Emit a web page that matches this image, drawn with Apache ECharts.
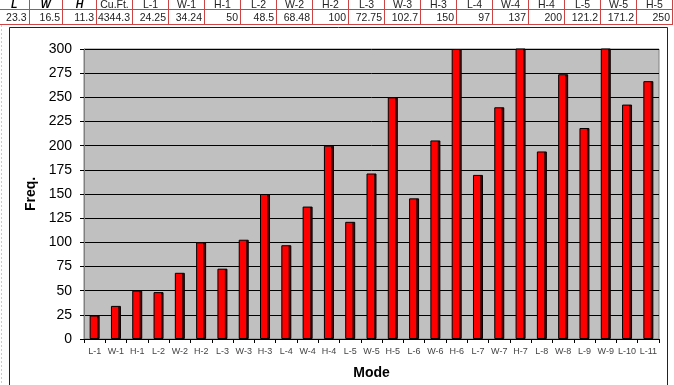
<!DOCTYPE html>
<html>
<head>
<meta charset="utf-8">
<script src="https://cdn.jsdelivr.net/npm/echarts@6/dist/echarts.min.js"></script>
<style>
html,body{margin:0;padding:0;background:#fff;overflow:hidden;}
#chart{position:absolute;left:0;top:0;width:674px;height:385px;}
#tbl{position:absolute;left:0;top:0;width:674px;height:25px;z-index:5;font-family:"Liberation Sans",Arial,sans-serif;font-size:10.5px;color:#222;}
.cell{position:absolute;box-sizing:border-box;border-right:1px solid #cc4444;border-bottom:1px solid #cc4444;white-space:nowrap;overflow:hidden;}
</style>
</head>
<body>
<div id="chart"></div>
<div id="tbl"></div>
<script>
// ---- data ----
var tableHeaders = ['L','W','H','Cu.Ft.','L-1','W-1','H-1','L-2','W-2','H-2','L-3','W-3','H-3','L-4','W-4','H-4','L-5','W-5','H-5'];
var tableValues  = ['23.3','16.5','11.3','4344.3','24.25','34.24','50','48.5','68.48','100','72.75','102.7','150','97','137','200','121.2','171.2','250'];
var categories = ['L-1','W-1','H-1','L-2','W-2','H-2','L-3','W-3','H-3','L-4','W-4','H-4','L-5','W-5','H-5','L-6','W-6','H-6','L-7','W-7','H-7','L-8','W-8','L-9','W-9','L-10','L-11'];
var freq = [24.25,34.24,50,48.5,68.48,100,72.75,102.7,150,97,137,200,121.2,171.2,250,145.5,205.4,300,169.75,239.7,350,194,273.9,218.25,308.2,242.5,266.75];
var yTicks = [0,25,50,75,100,125,150,175,200,225,250,275,300];

// ---- table (Excel cells above the chart) ----
var colW = [29.5,33.5,34,36,36,36,36,36,36,36,36,36,36,36,36,36,36,36,36];
var tbl = document.getElementById('tbl');
var x = 0;
for (var i = 0; i < tableHeaders.length; i++) {
  var w = colW[i];
  var h = document.createElement('div');
  h.className = 'cell';
  h.style.left = x + 'px'; h.style.top = '-5px'; h.style.width = w + 'px'; h.style.height = '15px';
  h.style.textAlign = 'center'; h.style.lineHeight = '12px'; h.style.paddingTop = '3px';
  if (i < 3) { h.style.fontWeight = 'bold'; h.style.fontStyle = 'italic'; h.style.color = '#000'; }
  h.textContent = tableHeaders[i];
  tbl.appendChild(h);
  var v = document.createElement('div');
  v.className = 'cell';
  v.style.left = x + 'px'; v.style.top = '10px'; v.style.width = w + 'px'; v.style.height = '15px';
  v.style.textAlign = 'right'; v.style.lineHeight = '14px'; v.style.paddingRight = '2px';
  v.textContent = tableValues[i];
  tbl.appendChild(v);
  x += w;
}

// ---- chart ----
var chart = echarts.init(document.getElementById('chart'), null, {renderer:'canvas'});
var barColor = new echarts.graphic.LinearGradient(0,0,1,0,[
  {offset:0,color:'#ff0000'},{offset:0.7,color:'#ff0000'},
  {offset:0.74,color:'#600000'},{offset:1,color:'#300000'}
]);
chart.setOption({
  backgroundColor:'#ffffff',
  animation:false,
  textStyle:{fontFamily:'"Liberation Sans", Arial, sans-serif'},
  graphic:[
    {type:'line',shape:{x1:1.5,y1:25,x2:1.5,y2:385},style:{stroke:'#e8c0c0',lineWidth:1,lineDash:[2,2]},silent:true},
    {type:'rect',shape:{x:9.5,y:27.5,width:658,height:370},style:{fill:'#ffffff',stroke:'#222222',lineWidth:1},z:-10,silent:true}
  ],
  grid:{left:84,right:15,top:49,bottom:42,show:true,backgroundColor:'#c0c0c0',borderColor:'#808080',borderWidth:1},
  xAxis:{
    type:'category',data:categories,
    name:'Mode',nameLocation:'middle',nameGap:27,
    nameTextStyle:{fontSize:14,fontWeight:'bold',color:'#000'},
    axisLine:{lineStyle:{color:'#000',width:1}},
    axisTick:{show:true,alignWithLabel:false,length:4,lineStyle:{color:'#000'}},
    axisLabel:{fontSize:9,color:'#444',margin:8,interval:0}
  },
  yAxis:{
    type:'value',min:yTicks[0],max:yTicks[yTicks.length-1],interval:yTicks[1]-yTicks[0],
    name:'Freq.',nameLocation:'middle',nameGap:45,nameRotate:90,
    nameTextStyle:{fontSize:14,fontWeight:'bold',color:'#000'},
    axisLine:{show:true,lineStyle:{color:'#808080',width:1}},
    axisTick:{show:true,length:4,lineStyle:{color:'#000'}},
    axisLabel:{fontSize:14,color:'#000',margin:12},
    splitLine:{show:true,lineStyle:{color:'#000',width:1}}
  },
  series:[{
    type:'bar',data:freq,barWidth:10,clip:true,
    itemStyle:{color:barColor,borderColor:'#000',borderWidth:1}
  }]
});
</script>
</body>
</html>
